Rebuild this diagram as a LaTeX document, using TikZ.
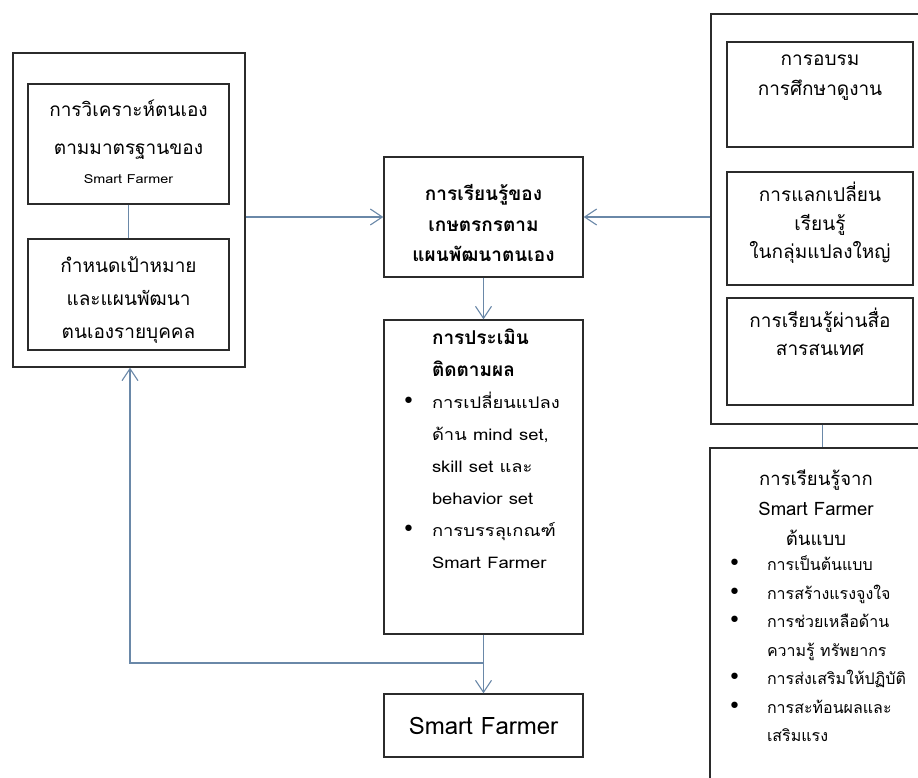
\documentclass[tikz,border=0pt]{standalone}
\usepackage{fontspec}
\newfontfamily\thaifont[Script=Thai]{Loma}
\newfontfamily\widethai[Script=Thai,FakeStretch=1.15]{Loma}
\newfontfamily\symfont{DejaVu Sans}
\usetikzlibrary{positioning,arrows.meta}

\definecolor{linkblue}{HTML}{6A88A8}
\definecolor{framegray}{HTML}{2B2B2B}
\newcommand{\bul}[1]{\makebox[#1][l]{\symfont\fontsize{22}{22}\selectfont •}}
\newcommand{\lift}[1]{\rule{0pt}{#1}}
\newcommand{\topbox}[3]{\parbox[c][#2][t]{#1}{#3}}

\tikzset{
  frame/.style={draw=framegray, line width=1.4pt, inner sep=0pt},
  link/.style={draw=linkblue, line width=1.1pt},
  arrow/.style={link, -{Straight Barb[length=12pt,width=16pt]}},
  thai/.style={font=\thaifont\fontsize{19}{38}\selectfont},
  list thai/.style={font=\widethai\fontsize{16}{32}\selectfont},
}

\begin{document}
\begin{tikzpicture}[x=1pt,y=-1pt]
\useasboundingbox (0,0) rectangle (918,778);
\clip (0,0) rectangle (918,778);

% left column
\node[frame, minimum width=232pt, minimum height=314pt] (selfplan) at (129,210) {};
\node[frame, thai] (analyse) at (128.5,144)
  {\topbox{201pt}{120pt}{\centering
   \lift{33pt}การวิเคราะห์ตนเอง\\ตามมาตรฐานของ\\[-9pt]{\widethai\fontsize{12.5}{12.5}\selectfont Smart Farmer}}};
\node[frame, thai] (goals) at (128.5,294.5)
  {\topbox{201pt}{111pt}{\centering\fontsize{19}{33}\selectfont
   \lift{33pt}กำหนดเป้าหมาย\\และแผนพัฒนา\\ตนเองรายบุคคล}};

% middle column
\node[frame, thai] (learn) at (483.5,217)
  {\topbox{199pt}{120pt}{\centering\fontsize{19}{31}\selectfont\bfseries
   \lift{43pt}การเรียนรู้ของ\\เกษตรกรตาม\\แผนพัฒนาตนเอง}};
\node[frame, list thai] (evaluate) at (483.5,477)
  {\topbox{199pt}{314pt}{\raggedright\leftskip=18pt
   \lift{24pt}\hspace*{30pt}{\thaifont\fontsize{19}{32}\selectfont\bfseries การประเมิน}\\
   \hspace*{30pt}{\thaifont\fontsize{19}{32}\selectfont\bfseries ติดตามผล}\\
   \bul{30pt}การเปลี่ยนแปลง\\
   \hspace*{30pt}ด้าน mind set,\\
   \hspace*{30pt}skill set และ\\
   \hspace*{30pt}behavior set\\
   \bul{30pt}การบรรลุเกณฑ์\\
   \hspace*{30pt}Smart Farmer}};
\node[frame, font=\thaifont\fontsize{24}{24}\selectfont, minimum width=199pt, minimum height=63pt] (farmer) at (483.5,725.5) {Smart Farmer};

% right column
\node[frame, minimum width=211pt, minimum height=410pt] (channels) at (816.5,219) {};
\node[frame, thai] (training) at (820,94.5)
  {\topbox{186pt}{105pt}{\centering\fontsize{19}{30}\selectfont
   \lift{24pt}การอบรม\\การศึกษาดูงาน}};
\node[frame, thai] (exchange) at (820,228.5)
  {\topbox{186pt}{113pt}{\centering\fontsize{19}{29}\selectfont
   \lift{29pt}การแลกเปลี่ยน\\เรียนรู้\\ในกลุ่มแปลงใหญ่}};
\node[frame, thai] (media) at (820,351.5)
  {\topbox{186pt}{107pt}{\centering\fontsize{19}{28}\selectfont
   \lift{29pt}การเรียนรู้ผ่านสื่อ\\สารสนเทศ}};
\node[frame, font=\thaifont\fontsize{16}{28.5}\selectfont] (rolemodel) at (816,619)
  {\topbox{212pt}{342pt}{\raggedright\leftskip=18pt
   {\centering\fontsize{18.5}{30}\selectfont
    \lift{37pt}การเรียนรู้จาก\\Smart Farmer\\ต้นแบบ\par}\vspace{-3pt}
   \bul{39pt}การเป็นต้นแบบ\\
   \bul{39pt}การสร้างแรงจูงใจ\\
   \bul{39pt}การช่วยเหลือด้าน\\
   \hspace*{39pt}ความรู้ ทรัพยากร\\
   \bul{39pt}การส่งเสริมให้ปฏิบัติ\\
   \bul{39pt}การสะท้อนผลและ\\
   \hspace*{39pt}เสริมแรง}};

% connectors
\coordinate (bend) at (130,663);
\draw[link] (analyse) -- (goals);
\draw[arrow] (selfplan.east |- learn.west) -- (learn.west);
\draw[arrow] (channels.west |- learn.east) -- (learn.east);
\draw[arrow] (learn) -- (evaluate);
\draw[arrow] (evaluate) -- (farmer);
\draw[arrow] (evaluate.south |- bend) -- (bend) -- (bend |- selfplan.south);
\draw[link] ([xshift=6pt]channels.south) -- ([xshift=6pt]channels.south |- rolemodel.north);
\end{tikzpicture}
\end{document}
